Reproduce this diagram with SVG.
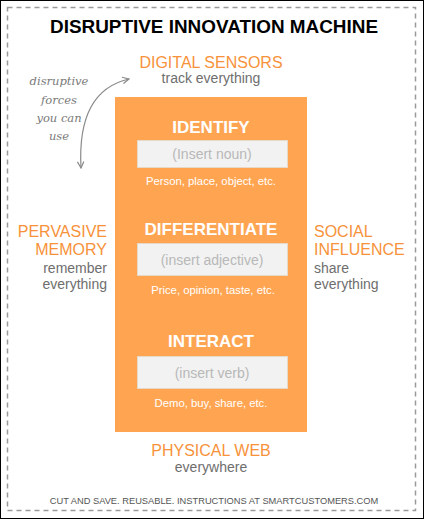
<svg xmlns="http://www.w3.org/2000/svg" width="424" height="519" viewBox="0 0 424 519">
<defs>
<style>
.lbl{font-family:"Liberation Sans",Arial,sans-serif;fill:#f7923a;font-size:16px}
.sub{font-family:"Liberation Sans",Arial,sans-serif;fill:#6e6e6e;font-size:14px}
.head{font-family:"Liberation Sans",Arial,sans-serif;fill:#ffffff;font-size:17px;font-weight:bold}
.box{fill:#f2f2f2;stroke:#e8d8c8;stroke-width:1}
.ph{font-family:"Liberation Sans",Arial,sans-serif;fill:#b8b8b8;font-size:14px}
.ex{font-family:"Liberation Sans",Arial,sans-serif;fill:#ffffff;font-size:11.3px}
.hand{font-family:"DejaVu Serif",serif;font-style:italic;fill:#7a7a7a;font-size:11.5px}
</style>
<marker id="ah" viewBox="0 0 10 10" refX="9" refY="5" markerWidth="8" markerHeight="8" orient="auto-start-reverse" markerUnits="userSpaceOnUse">
<path d="M1,1 L9,5 L1,9" fill="none" stroke="#8a8a8a" stroke-width="1.5"/>
</marker>
</defs>
<rect x="0" y="0" width="424" height="519" fill="#ffffff"/>
<rect x="0.5" y="0.5" width="423" height="518" fill="none" stroke="#000" stroke-width="1"/>
<rect x="7.5" y="7.5" width="408" height="503" fill="none" stroke="#9a9a9a" stroke-width="1.5" stroke-dasharray="5,4"/>
<text id="title" x="214" y="33" text-anchor="middle" font-family="Liberation Sans,Arial,sans-serif" font-weight="bold" font-size="18" fill="#000" textLength="328" lengthAdjust="spacingAndGlyphs">DISRUPTIVE INNOVATION MACHINE</text>

<g id="machine">
<rect x="115" y="97" width="192" height="335" fill="#ffa552"/>
</g>

<g id="identify">
<text class="head" x="211" y="133" text-anchor="middle">IDENTIFY</text>
<rect class="box" x="137.5" y="140.5" width="150" height="27"/>
<text class="ph" x="212" y="159" text-anchor="middle">(Insert noun)</text>
<text class="ex" x="211" y="185" text-anchor="middle">Person, place, object, etc.</text>
</g>

<g id="differentiate">
<text class="head" x="211" y="235" text-anchor="middle">DIFFERENTIATE</text>
<rect class="box" x="137.5" y="243.5" width="150" height="32"/>
<text class="ph" x="212" y="265" text-anchor="middle">(insert adjective)</text>
<text class="ex" x="213" y="294" text-anchor="middle">Price, opinion, taste, etc.</text>
</g>

<g id="interact">
<text class="head" x="211" y="347" text-anchor="middle">INTERACT</text>
<rect class="box" x="137.5" y="356.5" width="150" height="32"/>
<text class="ph" x="212" y="378" text-anchor="middle">(insert verb)</text>
<text class="ex" x="211" y="407" text-anchor="middle">Demo, buy, share, etc.</text>
</g>

<g id="digital-sensors">
<text class="lbl" x="211" y="68" text-anchor="middle">DIGITAL SENSORS</text>
<text class="sub" x="211" y="83" text-anchor="middle">track everything</text>
</g>

<g id="pervasive-memory">
<text class="lbl" x="107" y="237" text-anchor="end">PERVASIVE</text>
<text class="lbl" x="107" y="255" text-anchor="end">MEMORY</text>
<text class="sub" x="107" y="273" text-anchor="end">remember</text>
<text class="sub" x="107" y="289" text-anchor="end">everything</text>
</g>

<g id="social-influence">
<text class="lbl" x="314" y="237">SOCIAL</text>
<text class="lbl" x="314" y="255">INFLUENCE</text>
<text class="sub" x="314" y="273">share</text>
<text class="sub" x="314" y="289">everything</text>
</g>

<g id="physical-web">
<text class="lbl" x="211" y="456" text-anchor="middle">PHYSICAL WEB</text>
<text class="sub" x="211" y="472" text-anchor="middle">everywhere</text>
</g>

<g id="note">
<text class="hand" x="59" y="85" text-anchor="middle">disruptive</text>
<text class="hand" x="59" y="104" text-anchor="middle">forces</text>
<text class="hand" x="59" y="122" text-anchor="middle">you can</text>
<text class="hand" x="59" y="140" text-anchor="middle">use</text>
</g>

<g id="connectors">
<path d="M129,79 C98,86 78,112 81,168" fill="none" stroke="#8a8a8a" stroke-width="1.2" marker-start="url(#ah)" marker-end="url(#ah)"/>
</g>

<text id="footer" x="214" y="504" text-anchor="middle" font-family="Liberation Sans,Arial,sans-serif" font-size="9.3" fill="#555">CUT AND SAVE. REUSABLE. INSTRUCTIONS AT SMARTCUSTOMERS.COM</text>
</svg>
